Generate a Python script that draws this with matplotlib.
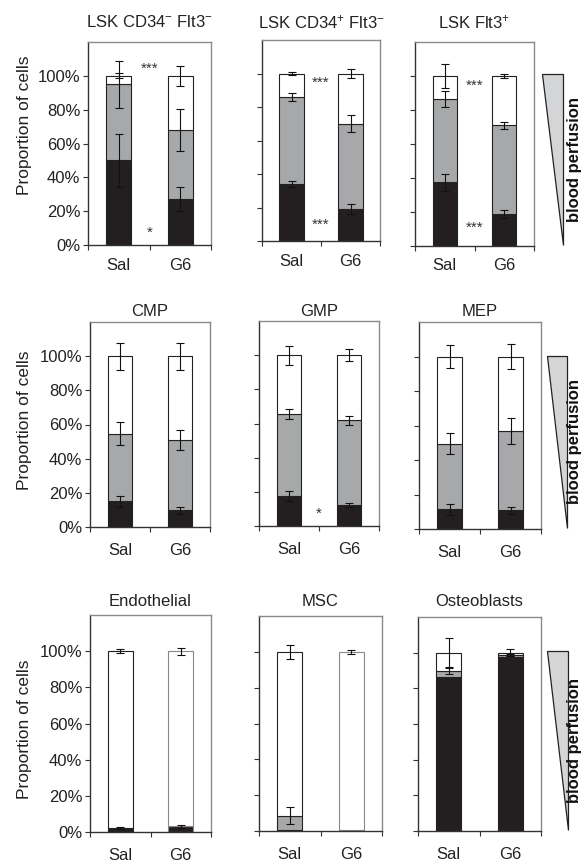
import numpy as np
import matplotlib
matplotlib.use('Agg')
import matplotlib.pyplot as plt

plt.rcParams['font.family'] = ['Liberation Sans', 'DejaVu Sans']
plt.rcParams['mathtext.fontset'] = 'custom'
plt.rcParams['mathtext.rm'] = 'Liberation Sans'
plt.rcParams['mathtext.it'] = 'Liberation Sans'

# Datos (proporcion de celulas, %)
titulos = ['LSK CD34$^{-}$ Flt3$^{-}$', 'LSK CD34$^{+}$ Flt3$^{-}$', 'LSK Flt3$^{+}$',
           'CMP', 'GMP', 'MEP',
           'Endothelial', 'MSC', 'Osteoblasts']
grupos = ['Sal', 'G6']

# Segmentos apilados [Sal, G6] por panel
negro = [[50, 27], [34, 19], [37.5, 18.8],
         [15, 9.8], [17.5, 12.2], [11.4, 10.9],
         [2.2, 3.1], [0.5, 0.3], [86.5, 97.4]]
gris = [[45, 41], [52, 51], [49, 52.2],
        [39.6, 41.2], [48.1, 49.6], [38, 46.1],
        [0, 0], [8.1, 0], [3.5, 1.3]]
blanco = [[5, 32], [14, 30], [13.5, 29],
          [45.4, 49], [34.4, 38.2], [50.6, 43],
          [97.8, 96.9], [91.4, 99.7], [10, 1.3]]

# Errores (+/-) de cada segmento
err_negro = [[15.5, 7], [2, 3], [5, 2.5],
             [3, 2], [3, 1], [3, 2],
             [0.5, 1], [0, 0], [0, 0]]
err_gris = [[13.8, 12.5], [2.5, 5], [4.5, 2],
            [6.6, 6], [3, 2.8], [6, 7.5],
            [0, 0], [4.6, 0], [1.7, 0.8]]
err_blanco = [[1.5, 5.8], [0.7, 2.8], [7, 1],
              [8, 8], [5.5, 3.5], [6.5, 7.5],
              [1, 2], [4, 1], [8.5, 2]]

# Marcas de significancia: (panel, texto, y)
estrellas = [(0, '***', 104), (0, '*', 7.5),
             (1, '***', 94.5), (1, '***', 9.5),
             (2, '***', 94.5), (2, '***', 10.5),
             (4, '*', 7)]

W, H = 583, 864
# Cajas de ejes en pixeles: (izq, der, arriba, abajo)
cajas = [(88, 211, 42, 245), (262, 380, 40, 241), (415, 534, 42, 246),
         (90, 210, 322, 527), (259, 379, 321, 526), (419, 541, 322, 529),
         (90, 211, 615, 832), (259, 382, 616, 831), (418, 541, 617, 831)]
cunas = [(542, 563, 74, 245), (547, 567, 356, 528), (547, 568, 651, 830)]
titulo_y = [22, 311, 601]
ylabel_y = [125, 420, 729]
pad_x = [9, 11.5, 11.5]

C_NEGRO = '#231f20'
C_GRIS = '#a7a8aa'
C_TEXTO = '#222222'
# barras con contorno gris en la figura original
contorno_gris = {(6, 1), (7, 1)}

fig = plt.figure(figsize=(W / 100, H / 100), dpi=100)

x = np.array([0.5, 1.5])
for i, (l, r, t, b) in enumerate(cajas):
    ax = fig.add_axes([l / W, 1 - b / H, (r - l) / W, (b - t) / H])
    n = np.array(negro[i], dtype=float)
    g = np.array(gris[i], dtype=float)
    w = np.array(blanco[i], dtype=float)
    bordes = ['#888888' if (i, j) in contorno_gris else '#222222' for j in range(2)]

    ax.bar(x, n, width=0.41, color=C_NEGRO, edgecolor=bordes, linewidth=0.8, zorder=2)
    ax.bar(x, g, width=0.41, bottom=n, color=C_GRIS, edgecolor=bordes, linewidth=0.8, zorder=2)
    ax.bar(x, w, width=0.41, bottom=n + g, color='white', edgecolor=bordes, linewidth=0.8, zorder=2)

    # Barras de error en la parte superior de cada segmento
    for tope, err in ((n, err_negro[i]), (n + g, err_gris[i]), (n + g + w, err_blanco[i])):
        err = np.array(err, dtype=float)
        m = err > 0
        if m.any():
            ax.errorbar(x[m], tope[m], yerr=err[m], fmt='none', ecolor='#111111',
                        elinewidth=0.8, capsize=3, capthick=0.8, zorder=3)

    for p, txt, yv in estrellas:
        if p == i:
            ax.text(1.0, yv, txt, ha='center', va='center', fontsize=11, color='#333333')

    ax.set_xlim(0, 2)
    ax.set_ylim(0, 120)
    ax.set_xticks([0, 1, 2])
    ax.set_xticklabels([])
    ax.set_xticks(x, minor=True)
    ax.set_xticklabels(grupos, minor=True)
    ax.tick_params(axis='x', which='minor', length=0, labelsize=12,
                   pad=pad_x[i // 3], colors=C_TEXTO)
    ax.tick_params(axis='x', which='major', length=3.5, width=0.8, color='#333333')
    ax.set_yticks(range(0, 101, 20))
    if i % 3 == 0:
        ax.set_yticklabels([f'{v}%' for v in range(0, 101, 20)])
    else:
        ax.set_yticklabels([])
    ax.tick_params(axis='y', length=3.5, width=0.8, pad=2, labelsize=12,
                   color='#333333', labelcolor=C_TEXTO)

    for lado in ('left', 'bottom'):
        ax.spines[lado].set_color('#333333')
        ax.spines[lado].set_linewidth(1.0)
    for lado in ('top', 'right'):
        ax.spines[lado].set_color('#8a8a8a')
        ax.spines[lado].set_linewidth(1.0)

    fig.text((l + r) / 2 / W, 1 - titulo_y[i // 3] / H, titulos[i],
             ha='center', va='center', fontsize=12, color=C_TEXTO)

for k in range(3):
    fig.text(25 / W, 1 - ylabel_y[k] / H, 'Proportion of cells', rotation=90,
             ha='center', va='center', fontsize=12.5, color=C_TEXTO)

# Cunas de "blood perfusion"
for l, r, t, b in cunas:
    axc = fig.add_axes([l / W, 1 - b / H, (r - l) / W, (b - t) / H])
    axc.fill([0, 1, 1], [1, 1, 0], facecolor='#d4d5d7', edgecolor='#222222',
             linewidth=0.9, clip_on=False)
    axc.set_xlim(0, 1)
    axc.set_ylim(0, 1)
    axc.axis('off')
    fig.text(min(r + 12, 574) / W, 1 - (t + b) / 2 / H, 'blood perfusion', rotation=90,
             ha='center', va='center', fontsize=12, fontweight='bold', color='#111111')

fig.savefig('out.png', dpi=100)
